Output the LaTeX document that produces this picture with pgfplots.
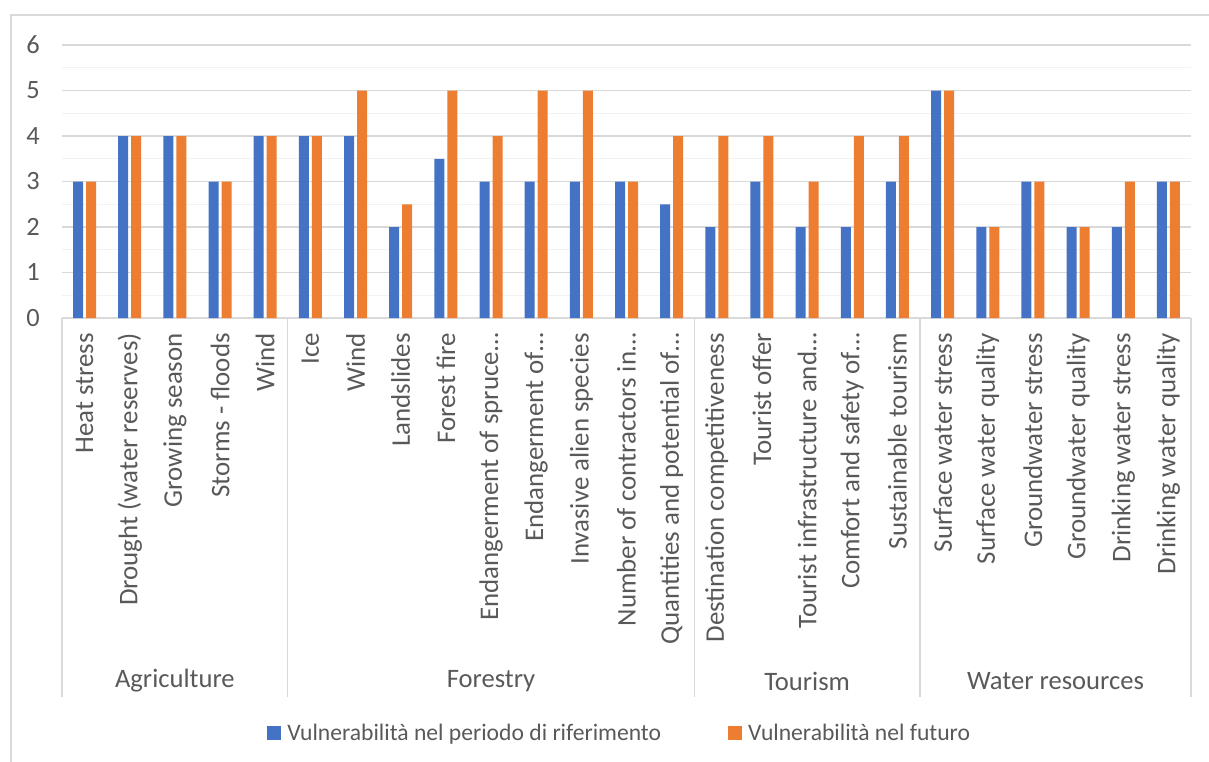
\documentclass[border=0pt]{standalone}
\usepackage{pgfplots}
\pgfplotsset{compat=1.18}
\usepackage{fontspec}
\setmainfont{Carlito}
\definecolor{cblue}{HTML}{4472C4}
\definecolor{corange}{HTML}{ED7D31}
\definecolor{txt}{HTML}{595959}
\definecolor{gmaj}{HTML}{D9D9D9}
\definecolor{gmin}{HTML}{F2F2F2}
\begin{document}
\begin{tikzpicture}
\useasboundingbox (0,0) rectangle (1209bp,762bp);
\draw[gmaj, line width=1.2bp] (11bp,0) -- (11bp,747bp) -- (1215bp,747bp);
\begin{axis}[
  at={(62bp,444bp)}, anchor=south west,
  scale only axis, width=1129bp, height=273bp,
  xmin=-0.5, xmax=24.5, ymin=0, ymax=6,
  ybar, bar width=10bp,
  axis x line*=bottom, axis y line*=left,
  x axis line style={gmaj, line width=1.2bp, -},
  y axis line style={draw=none},
  xtick={0,...,24}, ytick={0,1,...,6},
  minor y tick num=1,
  ymajorgrids, yminorgrids,
  major grid style={gmaj, line width=1.2bp},
  minor grid style={gmin, line width=1.2bp},
  tick style={draw=none}, major tick length=0pt, minor tick length=0pt,
  /pgf/number format/assume math mode=true,
  font=\fontsize{26}{31}\selectfont,
  tick label style={text=txt, font=\fontsize{27}{32}\selectfont},
  yticklabel style={anchor=east, inner sep=0pt, xshift=-22bp, font=\fontsize{26.5}{31}\selectfont},
  xticklabel style={rotate=90, anchor=east, inner sep=0pt},
  xticklabel shift=15bp,
  xticklabels={{Heat stress},{Drought (water reserves)},{Growing season},{Storms - floods},{Wind},
    {Ice},{Wind},{Landslides},{Forest fire},{Endangerment of spruce…},{Endangerment of…},{Invasive alien species},{Number of contractors in…},{Quantities and potential of…},
    {Destination competitiveness},{Tourist offer},{Tourist infrastructure and…},{Comfort and safety of…},{Sustainable tourism},
    {Surface water stress},{Surface water quality},{Groundwater stress},{Groundwater quality},{Drinking water stress},{Drinking water quality}},
  clip=false,
  legend columns=2,
  legend style={draw=none, fill=none, at={(0.494,-1.520)}, anchor=center,
    font=\fontsize{23.7}{28}\selectfont, text=txt, inner sep=0pt,
    /tikz/every odd column/.append style={column sep=4bp},
    /tikz/every even column/.append style={column sep=65bp}},
  legend image code/.code={\fill[#1] (0bp,-7bp) rectangle (14bp,7bp);},
]
\addplot[fill=cblue, draw=none, bar shift=-6.5bp] coordinates {
(0,3) (1,4) (2,4) (3,3) (4,4)
(5,4) (6,4) (7,2) (8,3.5) (9,3) (10,3) (11,3) (12,3) (13,2.5)
(14,2) (15,3) (16,2) (17,2) (18,3)
(19,5) (20,2) (21,3) (22,2) (23,2) (24,3)};
\addlegendentry{Vulnerabilità nel periodo di riferimento}
\addplot[fill=corange, draw=none, bar shift=6.5bp] coordinates {
(0,3) (1,4) (2,4) (3,3) (4,4)
(5,4) (6,5) (7,2.5) (8,5) (9,4) (10,5) (11,5) (12,3) (13,4)
(14,4) (15,4) (16,3) (17,4) (18,4)
(19,5) (20,2) (21,3) (22,2) (23,3) (24,3)};
\addlegendentry{Vulnerabilità nel futuro}
\pgfplotsinvokeforeach{-0.5,4.5,13.5,18.5,24.5}{
  \draw[gmaj, line width=1.2bp] (axis cs:#1,0) -- ++(0bp,-379bp);
}
\node[text=txt, font=\fontsize{26.7}{32}\selectfont] at (axis cs:2,0) [yshift=-363bp] {Agriculture};
\node[text=txt, font=\fontsize{26.7}{32}\selectfont] at (axis cs:9,0) [yshift=-363bp] {Forestry};
\node[text=txt, font=\fontsize{26.7}{32}\selectfont] at (axis cs:16,0) [yshift=-363bp] {Tourism};
\node[text=txt, font=\fontsize{26.7}{32}\selectfont] at (axis cs:21.5,0) [yshift=-363bp] {Water resources};
\end{axis}
\end{tikzpicture}
\end{document}
